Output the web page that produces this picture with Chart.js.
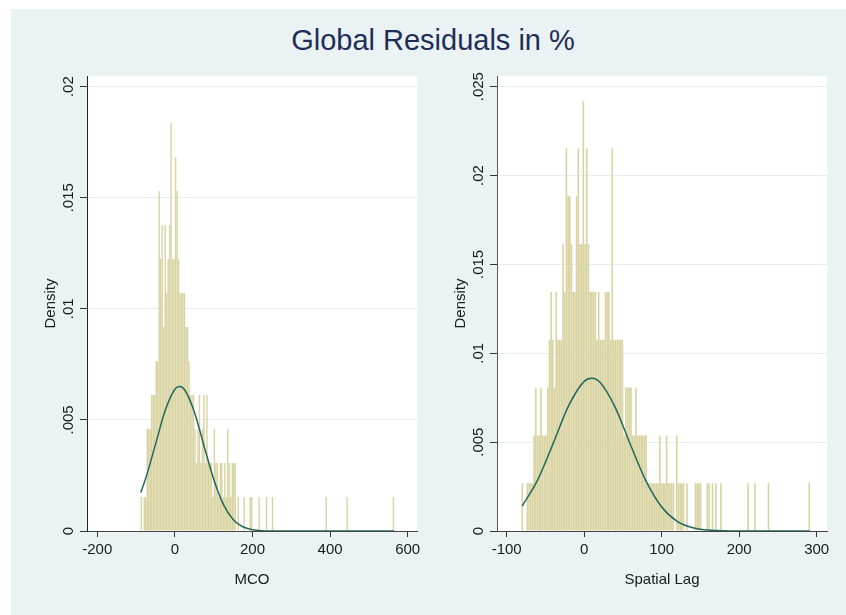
<!DOCTYPE html>
<html>
<head>
<meta charset="utf-8">
<script src="https://cdn.jsdelivr.net/npm/chart.js@4.4.1/dist/chart.umd.min.js"></script>
<style>
  body { margin: 0; width: 846px; height: 615px; overflow: hidden; position: relative; background: #fff; font-family: "Liberation Sans", Arial, sans-serif; }
  #bg { position: absolute; left: 11px; top: 9px; right: 0; bottom: 0; background: #eaf2f3; }
  #title { position: absolute; left: 0; width: 866px; top: 26px; font-size: 29px; line-height: 29px; text-align: center; color: #1f2d58; }
  canvas { position: absolute; top: 0; }
</style>
</head>
<body>
<div id="bg"></div>
<div id="title">Global Residuals in %</div>
<canvas id="left" width="430" height="615" style="left:0px"></canvas>
<canvas id="right" width="416" height="615" style="left:430px"></canvas>
<script>
// histogram bins: counts per bin, one count = unit of density
const leftBinStart = -88.5, leftBinWidth = 3.844, leftUnit = 0.00153;
const leftCounts = [
  1,0,1,1,3,3,3,4,4,4,
  5,5,10,8,9,6,9,7,8,9,
  12,8,8,11,10,8,7,7,7,7,
  6,6,5,4,4,4,3,2,3,4,
  2,3,4,2,4,2,2,2,1,3,
  2,2,1,2,2,1,2,1,3,2,
  1,2,2,2,0,1,0,0,0,1,
  0,0,0,1,1,0,0,0,0,1,
  0,0,0,0,1,0,0,0,1,0,
  0,0,0,0,0,0,0,0,0,0,
  0,0,0,0,0,0,0,0,0,0,
  0,0,0,0,0,0,0,0,0,0,
  0,0,0,0,1,0,0,0,0,0,
  0,0,0,0,0,0,0,0,1,0,
  0,0,0,0,0,0,0,0,0,0,
  0,0,0,0,0,0,0,0,0,0,
  0,0,0,0,0,0,0,0,0,1
];
const leftCurveX = [-88, -75, -50, -25, 0, 12, 25, 50, 75, 100, 125, 150, 175, 200, 250, 300, 400, 565];
const leftCurveY = [0.00173, 0.00238, 0.0039, 0.00542, 0.00638, 0.0065, 0.00636, 0.00537, 0.00384, 0.00233, 0.0012, 0.00052, 0.00019, 0.00006, 0, 0, 0, 0];
const leftXTicks = [-200, 0, 200, 400, 600];
const leftYTicks = [0, 0.005, 0.01, 0.015, 0.02];
const leftYLabels = ["0", ".005", ".01", ".015", ".02"];

const rightBinStart = -81, rightBinWidth = 2.191, rightUnit = 0.00269;
const rightCounts = [
  1,0,0,1,1,1,1,2,3,2,
  2,3,2,2,2,3,4,5,4,3,
  5,4,4,4,6,5,8,7,7,6,
  5,5,7,8,6,6,9,6,8,6,
  5,5,5,5,4,5,4,4,4,5,
  5,5,4,8,4,4,4,4,4,4,
  2,3,3,3,3,2,2,3,2,2,
  2,2,2,2,1,1,1,1,1,1,
  1,2,1,1,1,2,1,1,1,1,
  0,2,1,1,1,1,0,1,0,0,
  0,0,1,1,1,1,0,0,0,1,
  1,0,1,0,1,0,0,1,0,0,
  0,0,0,0,0,0,0,0,0,0,
  0,0,0,1,0,0,0,1,0,0,
  0,0,0,0,0,1,0,0,0,0,
  0,0,0,0,0,0,0,0,0,0,
  0,0,0,0,0,0,0,0,0,1
];
const rightCurveX = [-80, -60, -40, -20, 0, 10, 20, 40, 60, 80, 100, 120, 140, 160, 180, 200, 250, 291];
const rightCurveY = [0.0014, 0.00288, 0.00493, 0.00705, 0.00842, 0.00859, 0.00838, 0.00696, 0.00482, 0.00279, 0.00135, 0.00054, 0.00018, 0.00005, 0.00001, 0, 0, 0];
const rightXTicks = [-100, 0, 100, 200, 300];
const rightYTicks = [0, 0.005, 0.01, 0.015, 0.02, 0.025];
const rightYLabels = ["0", ".005", ".01", ".015", ".02", ".025"];

const family = '"Liberation Sans", Arial, sans-serif';

function binPoints(start, width, counts, unit) {
  return counts.map((c, i) => ({ x: start + (i + 0.5) * width, y: c * unit }));
}
function curvePoints(xs, ys) {
  return xs.map((x, i) => ({ x: x, y: ys[i] }));
}

// white plot region
const whitePlot = {
  id: 'whitePlot',
  beforeDraw(chart) {
    const a = chart.chartArea, ctx = chart.ctx;
    ctx.save();
    ctx.fillStyle = '#ffffff';
    ctx.fillRect(a.left, a.top, a.right - a.left, a.bottom - a.top);
    ctx.restore();
  }
};

// y tick labels turned on their side, like stata
function yTickLabels(labels) {
  return {
    id: 'yTickLabels',
    afterDraw(chart) {
      const s = chart.scales.y, ctx = chart.ctx;
      ctx.save();
      ctx.font = '15px ' + family;
      ctx.fillStyle = '#1a1a1a';
      ctx.textAlign = 'center';
      ctx.textBaseline = 'middle';
      s.ticks.forEach((t, i) => {
        const y = s.getPixelForValue(t.value);
        ctx.save();
        ctx.translate(s.right - 18, y);
        ctx.rotate(-Math.PI / 2);
        ctx.fillText(labels[i], 0, 0);
        ctx.restore();
      });
      ctx.restore();
    }
  };
}

function drawPanel(id, o) {
  return new Chart(document.getElementById(id), {
    type: 'bar',
    data: {
      datasets: [{
        type: 'line',
        data: curvePoints(o.curveX, o.curveY),
        borderColor: '#22695c',
        borderWidth: 1.5,
        pointRadius: 0,
        cubicInterpolationMode: 'monotone',
        order: 0
      }, {
        type: 'bar',
        data: binPoints(o.binStart, o.binWidth, o.counts, o.unit),
        backgroundColor: '#d8d3a0',
        borderWidth: 0,
        inflateAmount: 0,
        barPercentage: 0.94,
        categoryPercentage: 1,
        order: 1
      }]
    },
    options: {
      responsive: false,
      animation: false,
      devicePixelRatio: 1,
      layout: { padding: { left: 0, top: 76, right: o.padRight, bottom: 0 } },
      plugins: { legend: { display: false }, tooltip: { enabled: false } },
      scales: {
        x: {
          type: 'linear', min: o.xMin, max: o.xMax, offset: false,
          afterBuildTicks: s => { s.ticks = o.xTicks.map(v => ({ value: v })); },
          afterFit: s => { s.height = 84; },
          grid: { offset: false, drawOnChartArea: false, drawTicks: true, tickLength: 6, tickColor: '#333' },
          border: { color: '#444', width: 1 },
          ticks: { color: '#1a1a1a', font: { size: 15, family: family }, padding: 4, maxRotation: 0, autoSkip: false, callback: v => String(v) },
          title: { display: true, text: o.xTitle, color: '#1a1a1a', font: { size: 15, family: family }, padding: { top: 0, bottom: 26 } }
        },
        y: {
          type: 'linear', min: 0, max: o.yMax,
          afterBuildTicks: s => { s.ticks = o.yTicks.map(v => ({ value: v })); },
          afterFit: s => { s.width = o.yWidth; },
          grid: { color: '#e4eef1', lineWidth: 1, tickLength: 7, tickColor: '#333' },
          border: { color: o.axisColor, width: 1 },
          ticks: { color: 'rgba(0,0,0,0)', font: { size: 15, family: family } },
          title: { display: true, text: 'Density', color: '#1a1a1a', font: { size: 15, family: family }, padding: { top: o.yWidth - 45, bottom: 0 } }
        }
      }
    },
    plugins: [whitePlot, yTickLabels(o.yLabels)]
  });
}

drawPanel('left', {
  binStart: leftBinStart, binWidth: leftBinWidth, unit: leftUnit, counts: leftCounts,
  curveX: leftCurveX, curveY: leftCurveY,
  xTicks: leftXTicks, yTicks: leftYTicks, yLabels: leftYLabels,
  xMin: -226.5, xMax: 624, yMax: 0.02048,
  xTitle: 'MCO', yWidth: 87, padRight: 13, axisColor: '#222'
});
drawPanel('right', {
  binStart: rightBinStart, binWidth: rightBinWidth, unit: rightUnit, counts: rightCounts,
  curveX: rightCurveX, curveY: rightCurveY,
  xTicks: rightXTicks, yTicks: rightYTicks, yLabels: rightYLabels,
  xMin: -112.5, xMax: 313.3, yMax: 0.0256,
  xTitle: 'Spatial Lag', yWidth: 67, padRight: 19, axisColor: '#555'
});
</script>
</body>
</html>
